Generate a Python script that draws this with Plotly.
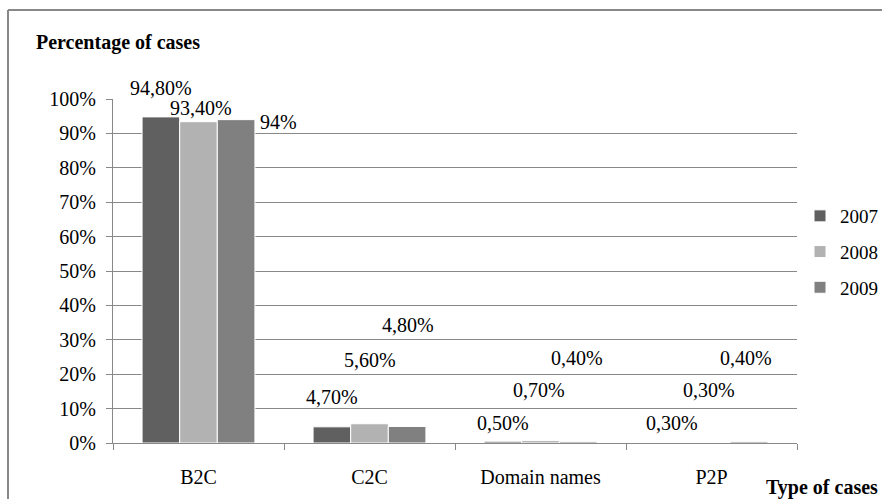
import plotly.graph_objects as go

categories = ["B2C", "C2C", "Domain names", "P2P"]
years = ["2007", "2008", "2009"]
values_2007 = [94.8, 4.7, 0.5, 0.0]
values_2008 = [93.4, 5.6, 0.7, 0.0]
values_2009 = [94.0, 4.8, 0.4, 0.4]
label_2007 = ["94,80%", "4,70%", "0,50%", "0,30%"]
label_2008 = ["93,40%", "5,60%", "0,70%", "0,30%"]
label_2009 = ["94%", "4,80%", "0,40%", "0,40%"]
y_ticks = [0, 10, 20, 30, 40, 50, 60, 70, 80, 90, 100]

# label placement (Excel-moved labels): height in % units, x shift in px
label_y = {
    "2007": [103.2, 13.4, 5.8, 5.8],
    "2008": [97.4, 24.1, 15.4, 15.4],
    "2009": [93.3, 34.3, 24.7, 24.7],
}
label_dx = {
    "2007": [-38, -38, -38, -40],
    "2008": [2, 0, -2, -3],
    "2009": [80, 38, 36, 34],
}

colors = {"2007": "#606060", "2008": "#b2b2b2", "2009": "#808080"}
series = {"2007": values_2007, "2008": values_2008, "2009": values_2009}
labels = {"2007": label_2007, "2008": label_2008, "2009": label_2009}

FONT = "Times New Roman, Liberation Serif, DejaVu Serif, serif"
FS = 20
Y_MAX = 100

W, H = 882, 499
L, R, T, B = 113, 85, 99, 56
pw, ph = W - L - R, H - T - B


def px_to_paper(px, py):
    return (px - L) / pw, (H - B - py) / ph


fig = go.Figure()
for yr in years:
    fig.add_trace(go.Bar(
        x=categories, y=series[yr], name=yr, legendgroup=yr,
        marker=dict(color=colors[yr], line=dict(color="#ffffff", width=1)),
    ))

annotations = []
for yr in years:
    for i, c in enumerate(categories):
        annotations.append(dict(
            x=c, y=label_y[yr][i] / Y_MAX, xref="x", yref="paper",
            text=labels[yr][i], showarrow=False, xshift=label_dx[yr][i],
            yanchor="middle",
            font=dict(family=FONT, size=FS, color="#000000"),
        ))

ax, ay = px_to_paper(34, 43)
annotations.append(dict(
    x=ax, y=ay, xref="paper", yref="paper", text="<b>Percentage of cases</b>",
    xanchor="left", yanchor="middle",
    showarrow=False, font=dict(family=FONT, size=FS, color="#000000"),
))
bx, by = px_to_paper(764, 487)
annotations.append(dict(
    x=bx, y=by, xref="paper", yref="paper", text="<b>Type of cases</b>",
    xanchor="left", yanchor="middle",
    showarrow=False, font=dict(family=FONT, size=FS, color="#000000"),
))

lx0, ly0 = px_to_paper(8, 10)
lx1, ly1 = px_to_paper(W + 5, H + 5)
shapes = [
    dict(type="line", xref="paper", yref="paper", x0=lx0, y0=ly0, x1=lx1, y1=ly0,
         line=dict(color="#888888", width=2)),
    dict(type="line", xref="paper", yref="paper", x0=lx0, y0=ly0, x1=lx0, y1=ly1,
         line=dict(color="#888888", width=2)),
]

fig.update_layout(
    width=W, height=H,
    margin=dict(l=L, r=R, t=T, b=B, autoexpand=False),
    paper_bgcolor="#ffffff", plot_bgcolor="#ffffff",
    barmode="group", bargap=0.34, bargroupgap=0,
    font=dict(family=FONT, size=FS, color="#000000"),
    showlegend=True,
    legend=dict(x=800 / W, y=1 - 197 / H, xref="container", yref="container",
                xanchor="left", yanchor="top",
                font=dict(family=FONT, size=19, color="#000000"),
                itemwidth=30, tracegroupgap=8, bgcolor="rgba(0,0,0,0)"),
    annotations=annotations,
    shapes=shapes,
    xaxis=dict(
        type="category", tickson="boundaries", ticks="outside", ticklen=6,
        tickcolor="#888888", showline=True, linecolor="#888888", linewidth=1,
        showgrid=False, tickfont=dict(family=FONT, size=FS, color="#000000"),
        ticklabelstandoff=16,
    ),
    yaxis=dict(
        range=[0, Y_MAX], tickvals=y_ticks, ticktext=[f"{v}%" for v in y_ticks],
        ticks="outside", ticklen=6, tickcolor="#888888",
        showline=True, linecolor="#888888", linewidth=1,
        showgrid=True, gridcolor="#888888", gridwidth=1,
        zeroline=False, tickfont=dict(family=FONT, size=FS, color="#000000"),
        ticklabelstandoff=6,
    ),
)

fig.write_html("out.html", config={"displayModeBar": False},
               post_script="document.body.style.margin='0';")
